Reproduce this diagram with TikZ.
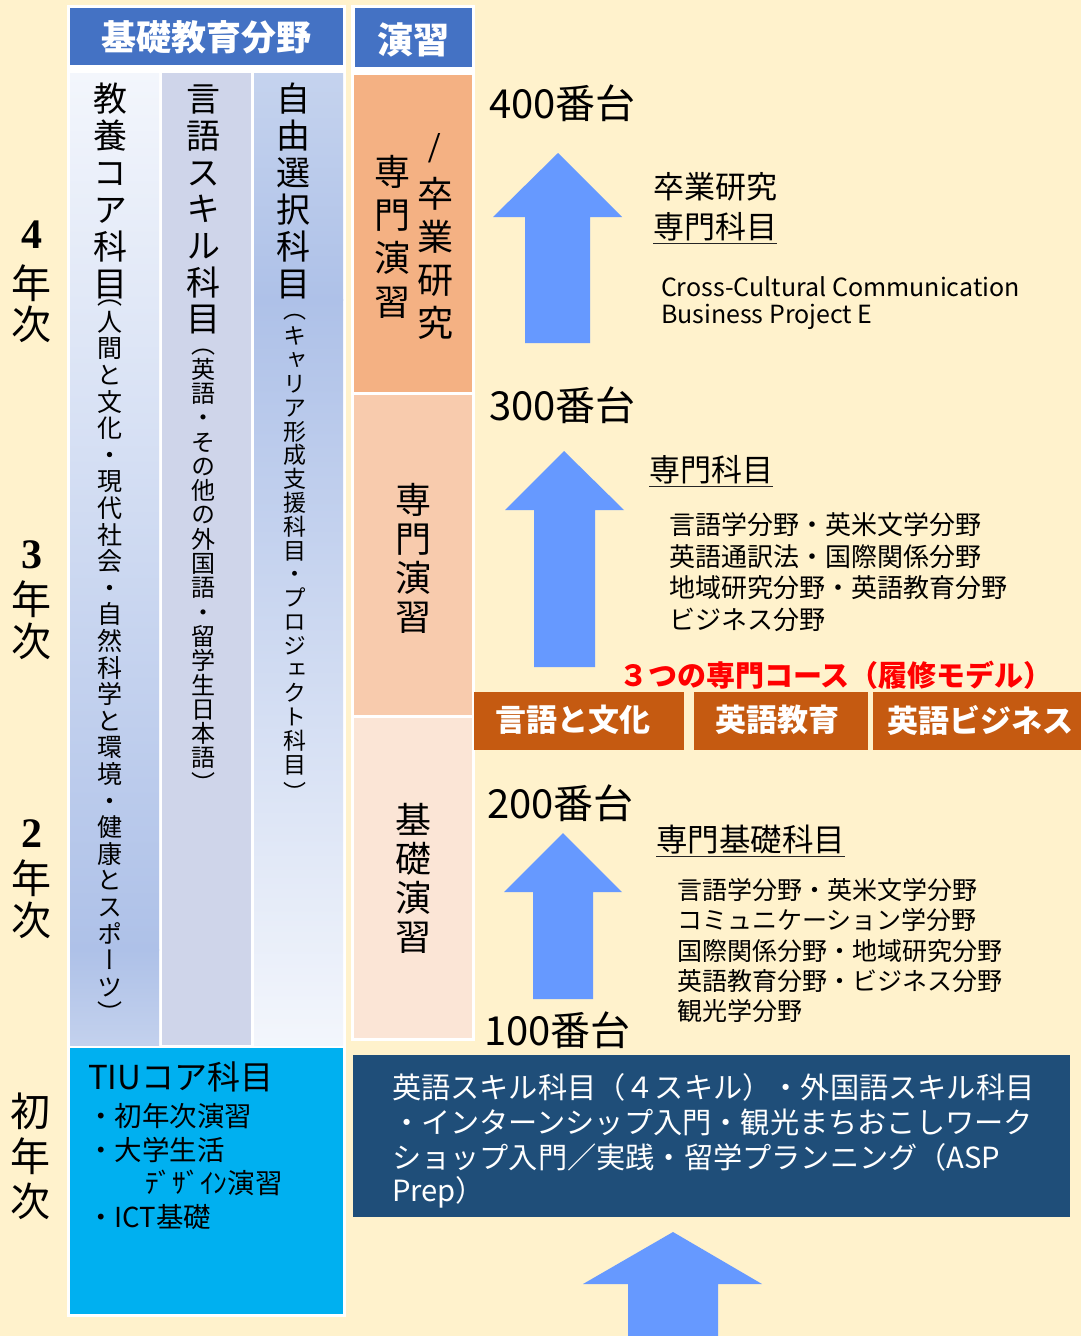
\documentclass[tikz,border=0pt]{standalone}
\usepackage{fontspec}
\setmainfont{Noto Sans CJK JP}
\newfontfamily\vjp[RawFeature=+vert]{Noto Sans CJK JP}
\newfontfamily\lserif{Liberation Serif}
\newcommand\fsz[1]{\fontsize{#1}{#1}\selectfont}
\newcommand\vstk[2]{\vbox{\baselineskip=#1pt\lineskiplimit=-1000pt\lineskip=0pt\vtl#2\relax}}
\def\vtl#1{\ifx\relax#1\else\hbox to 1em{\hss#1\hss}\expandafter\vtl\fi}
\definecolor{bg}{HTML}{FFF2CC}
\definecolor{hdr}{HTML}{4472C4}
\definecolor{semA}{HTML}{F4B183}
\definecolor{semB}{HTML}{F8CBAD}
\definecolor{semC}{HTML}{FBE5D6}
\definecolor{tiu}{HTML}{00B0F0}
\definecolor{navy}{HTML}{1F4E79}
\definecolor{course}{HTML}{C55A11}
\definecolor{arrowc}{HTML}{6699FF}
\definecolor{colB}{HTML}{CFD5EA}
\definecolor{lt}{HTML}{F3F6FC}
\definecolor{md}{HTML}{AEC1E8}
\definecolor{cOneB}{HTML}{C3D1ED}
\definecolor{cThrT}{HTML}{C5D3EE}
\begin{document}
\begin{tikzpicture}[x=1pt,y=-1pt,
  every node/.style={inner sep=0pt,outer sep=0pt},
  vst/.style={anchor=north},
  lab/.style={anchor=west},
  blockarrow/.style={fill=arrowc},
  uline/.style={line width=1.6pt,black!85}]
\fill[bg] (0,0) rectangle (1081,1336);
\useasboundingbox (0,0) rectangle (1081,1336);
% white backs
\fill[white] (67,5) rectangle (346,1317);
\fill[white] (351,5) rectangle (475,1041);
% headers
\fill[hdr] (70,8) rectangle (343,65);
\fill[hdr] (355,8) rectangle (472,67);
% columns
\fill[top color=lt,bottom color=md] (70,73) rectangle (159,950);
\fill[top color=md,bottom color=cOneB] (70,949.5) rectangle (159,1045);
\fill[colB] (162,73) rectangle (251,1045);
\fill[top color=cThrT,bottom color=md] (254,73) rectangle (343,300);
\fill[top color=md,bottom color=lt] (254,299.5) rectangle (343,1045);
% seminar boxes
\fill[semA] (354,75) rectangle (472,392);
\fill[semB] (354,395) rectangle (472,715);
\fill[semC] (354,718) rectangle (472,1038);
% TIU box
\fill[tiu] (70,1048) rectangle (343,1314);
% navy box
\fill[navy] (353,1055) rectangle (1070,1217);
% course boxes
\fill[course] (474,692) rectangle (684,750);
\fill[course] (694,692) rectangle (868,750);
\fill[course] (873,692) rectangle (1081,750);
% arrows
\fill[blockarrow] (558,153) -- (622,217) -- (590,217) -- (590,343) -- (525,343) -- (525,217) -- (493,217) -- cycle;
\fill[blockarrow] (564,451) -- (624,510) -- (595,510) -- (595,667) -- (534,667) -- (534,510) -- (505,510) -- cycle;
\fill[blockarrow] (563,833) -- (622,892) -- (593,892) -- (593,999) -- (533,999) -- (533,892) -- (504,892) -- cycle;
\fill[blockarrow] (673,1232) -- (762,1284) -- (718,1284) -- (718,1336) -- (628,1336) -- (628,1284) -- (583,1284) -- cycle;
% header texts
\node[text=white,font=\bfseries\fsz{35}] (h1) at (206,37) {基礎教育分野};
\node[text=white,font=\bfseries\fsz{36}] (h2) at (413,40) {演習};
% column 1
\node[vst] (c1big) at (110,83) {\vjp\fsz{34}\vstk{37}{教養コア科目}};
\node[vst] (c1pa) at (110,300) {\vjp\fsz{25}︵};
\node[vst] (c1sm) at (110,311) {\vjp\fsz{25}\vstk{26.6}{人間と文化・現代社会・自然科学と環境・健康とスポーツ}};
\node[vst] (c1pb) at (110,1002) {\vjp\fsz{25}︶};
% column 2
\node[vst] (c2big) at (203,85) {\vjp\fsz{34}\vstk{36.7}{言語スキル科目}};
\node[vst] (c2pa) at (203,349) {\vjp\fsz{24}︵};
\node[vst] (c2sm) at (203,358) {\vjp\fsz{24}\vstk{24.3}{英語・その他の外国語・留学生日本語}};
\node[vst] (c2pb) at (203,772) {\vjp\fsz{24}︶};
% column 3
\node[vst] (c3big) at (293,83) {\vjp\fsz{34}\vstk{37}{自由選択科目}};
\node[vst] (c3pa) at (295,314) {\vjp\fsz{23}︵};
\node[vst] (c3sm) at (295,327) {\vjp\fsz{23}\vstk{23.8}{キャリア形成支援科目・プロジェクト科目}};
\node[vst] (c3pb) at (295,782) {\vjp\fsz{23}︶};
% seminar texts
\node[vst] (e4a) at (392,155) {\vjp\fsz{36}\vstk{43.3}{専門演習}};
\node (e4s) at (435,148) {\lserif\fsz{44}/};
\node[vst] (e4b) at (435,177) {\vjp\fsz{36}\vstk{43}{卒業研究}};
\node[vst] (e3) at (413,483) {\vjp\fsz{36}\vstk{39}{専門演習}};
\node[vst] (e2) at (413,803) {\vjp\fsz{36}\vstk{39}{基礎演習}};
% year labels
\node (y4d) at (32,235) {\lserif\bfseries\fsz{42}4};
\node[vst] (y4) at (32,265) {\vjp\fsz{40}\vstk{41}{年次}};
\node (y3d) at (32,555) {\lserif\bfseries\fsz{42}3};
\node[vst] (y3) at (32,581) {\vjp\fsz{40}\vstk{42}{年次}};
\node (y2d) at (32,834) {\lserif\bfseries\fsz{42}2};
\node[vst] (y2) at (32,860) {\vjp\fsz{40}\vstk{42}{年次}};
\node[vst] (y1) at (30,1093) {\vjp\fsz{40}\vstk{45}{初年次}};
% TIU text
\node[lab,font=\fsz{33}] (t0) at (88,1077) {TIUコア科目};
\node[lab,font=\fsz{27.5}] (t1) at (87,1116) {・初年次演習};
\node[lab,font=\fsz{27.5}] (t2) at (87,1150) {・大学生活};
\node[lab,font=\fsz{27.5}] (t3) at (145,1183) {ﾃﾞｻﾞｲﾝ演習};
\node[lab,font=\fsz{27.5}] (t4) at (87,1217) {・ICT基礎};
% navy text
\node[lab,text=white,font=\fsz{29.2}] (n1) at (392,1087) {英語スキル科目（４スキル）・外国語スキル科目};
\node[lab,text=white,font=\fsz{29.2}] (n2) at (392,1122) {・インターンシップ入門・観光まちおこしワーク};
\node[lab,text=white,font=\fsz{29.2}] (n3) at (392,1157) {ショップ入門／実践・留学プランニング（ASP};
\node[lab,text=white,font=\fsz{29.2}] (n4) at (392,1192) {Prep）};
% level labels
\node[lab,font=\fsz{40}] (l400) at (489,103) {400番台};
\node[lab,font=\fsz{40}] (l300) at (489,405) {300番台};
\node[lab,font=\fsz{40}] (l200) at (487,803) {200番台};
\node[lab,font=\fsz{40}] (l100) at (484,1030) {100番台};
% 400 block
\node[lab,font=\fsz{31}] (s4a) at (653,187) {卒業研究};
\node[lab,font=\fsz{31}] (s4b) at (653,227) {専門科目};
\draw[uline] ([yshift=-2pt]s4b.south west) -- ([yshift=-2pt]s4b.south east);
\node[lab,font=\fsz{25}] (s4c) at (661,287) {Cross-Cultural Communication};
\node[lab,font=\fsz{25}] (s4d) at (661,317) {Business Project E};
% 300 block
\node[lab,font=\fsz{31}] (s3a) at (649,470) {専門科目};
\draw[uline] ([yshift=-2pt]s3a.south west) -- ([yshift=-2pt]s3a.south east);
\node[lab,font=\fsz{26}] (s3b) at (669,525) {言語学分野・英米文学分野};
\node[lab,font=\fsz{26}] (s3c) at (669,557) {英語通訳法・国際関係分野};
\node[lab,font=\fsz{26}] (s3d) at (669,588) {地域研究分野・英語教育分野};
\node[lab,font=\fsz{26}] (s3e) at (669,620) {ビジネス分野};
% courses
\node[lab,text=red,font=\bfseries\fsz{29}] (crs) at (619,675) {３つの専門コース（履修モデル）};
\node[text=white,font=\bfseries\fsz{31}] (k1) at (573,720) {言語と文化};
\node[text=white,font=\bfseries\fsz{31}] (k2) at (777,720) {英語教育};
\node[text=white,font=\bfseries\fsz{31}] (k3) at (980,720) {英語ビジネス};
% 200 block
\node[lab,font=\fsz{31.5}] (s2a) at (656,840) {専門基礎科目};
\draw[uline] ([yshift=-2pt]s2a.south west) -- ([yshift=-2pt]s2a.south east);
\node[lab,font=\fsz{25}] (s2b) at (677,890) {言語学分野・英米文学分野};
\node[lab,font=\fsz{25}] (s2c) at (677,920) {コミュニケーション学分野};
\node[lab,font=\fsz{25}] (s2d) at (677,951) {国際関係分野・地域研究分野};
\node[lab,font=\fsz{25}] (s2e) at (677,981) {英語教育分野・ビジネス分野};
\node[lab,font=\fsz{25}] (s2f) at (677,1011) {観光学分野};
\end{tikzpicture}
\end{document}
